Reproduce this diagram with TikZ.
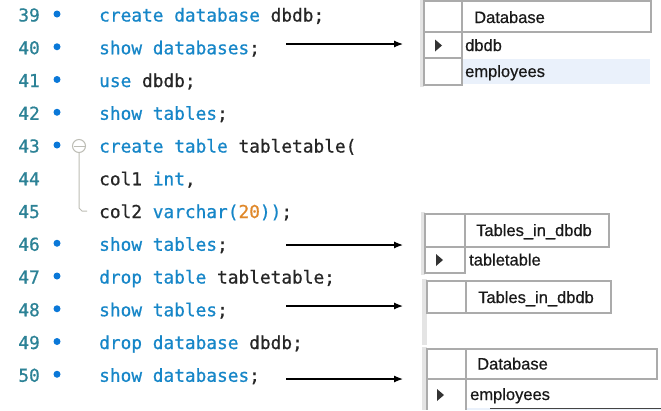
\documentclass[tikz,border=0pt]{standalone}
\usepackage{fontspec}
\setmainfont{Liberation Sans}[FakeBold=0.4]
\newfontfamily\codefont{DejaVu Sans Mono}[FakeBold=0.7]
\newfontfamily\tabfont{Liberation Sans}[FakeBold=0.6]
\usetikzlibrary{arrows.meta}
\definecolor{kwc}{HTML}{1686C8}
\definecolor{idc}{HTML}{262626}
\definecolor{numc}{HTML}{E0882A}
\definecolor{lnc}{HTML}{2C8296}
\definecolor{dotc}{HTML}{0A78D8}
\definecolor{foldc}{HTML}{BDBDB5}
\definecolor{gridc}{HTML}{ABABAB}
\definecolor{stripc}{HTML}{E4E4E4}
\definecolor{hlc}{HTML}{EAF1FB}
\newcommand\kwd[1]{\textcolor{kwc}{#1}}
\newcommand\numd[1]{\textcolor{numc}{#1}}
\begin{document}
\begin{tikzpicture}[x=1pt,y=-1pt,
  code/.style={anchor=base west, inner sep=0pt, font=\codefont\fontsize{17.8}{20}\selectfont, text=idc},
  lnum/.style={anchor=base east, inner sep=0pt, font=\codefont\fontsize{17.8}{20}\selectfont, text=lnc},
  bpoint/.style={circle, fill=dotc, inner sep=0pt, minimum size=7pt},
  cell/.style={draw=gridc, line width=1.1pt},
  tabtext/.style={anchor=base west, inner sep=0pt, font=\tabfont\fontsize{16.5}{18}\selectfont, text=black!90},
  arr/.style={-{Latex[length=9pt,width=7pt]}, line width=1.2pt, black},
  marker/.style={fill=black!80}
]
\useasboundingbox (0,0) rectangle (661,410);
\fill[white] (0,0) rectangle (661,410);

% ---------- code editor ----------
\foreach \n/\c in {39/16,40/48.75,41/81.5,42/114.25,43/147,44/179.75,45/212.5,46/245.25,47/278,48/310.75,49/343.5,50/376.25}{
  \node[lnum] (n\n) at (40,\c+5.5) {\n};
}
\foreach \n/\c in {39/16,40/48.75,41/81.5,42/114.25,43/147,46/245.25,47/278,48/310.75,49/343.5,50/376.25}{
  \node[bpoint] (d\n) at (57,\c-2) {};
}
\node[code] (l39) at (99,21.5) {\kwd{create database} dbdb;};
\node[code] (l40) at (99,54.25) {\kwd{show databases};};
\node[code] (l41) at (99,87) {\kwd{use} dbdb;};
\node[code] (l42) at (99,119.75) {\kwd{show tables};};
\node[code] (l43) at (99,152.5) {\kwd{create table} tabletable(};
\node[code] (l44) at (99,185.25) {col1 \kwd{int},};
\node[code] (l45) at (99,218) {col2 \kwd{varchar(}\numd{20}\kwd{))};};
\node[code] (l46) at (99,250.75) {\kwd{show tables};};
\node[code] (l47) at (99,283.5) {\kwd{drop table} tabletable;};
\node[code] (l48) at (99,316.25) {\kwd{show tables};};
\node[code] (l49) at (99,349) {\kwd{drop database} dbdb;};
\node[code] (l50) at (99,381.75) {\kwd{show databases};};

% fold marker
\node[circle, draw=foldc, line width=1pt, fill=white, minimum size=13pt, inner sep=0pt] (fold) at (79,146) {};
\draw[foldc, line width=1pt] (73.5,146) -- (84.5,146);
\draw[foldc, line width=1pt] (fold.south) -- (79,208) -- (82,211) -- (87,211);

% ---------- table 1 ----------
\fill[stripc] (420,0) rectangle (424,87);
\fill[hlc] (462,59) rectangle (650,84);
\draw[cell] (424,1) rectangle (651,32);
\draw[cell] (462,1) -- (462,32);
\draw[cell] (424,32) rectangle (462,58);
\draw[cell] (424,58) rectangle (462,85);
\fill[marker] (435,39.5) -- (442,45.5) -- (435,51.5) -- cycle;
\node[tabtext] (t1h) at (474,23) {Database};
\node[tabtext] (t1a) at (465,51) {dbdb};
\node[tabtext] (t1b) at (465,77) {employees};

% ---------- table 2 ----------
\fill[stripc] (421,212) rectangle (425,275);
\draw[cell] (425,214) rectangle (609,247);
\draw[cell] (465,214) -- (465,247);
\draw[cell] (425,247) rectangle (465,273);
\fill[marker] (436,254) -- (443,260) -- (436,266) -- cycle;
\node[tabtext] (t2h) at (476,236) {Tables\_in\_dbdb};
\node[tabtext] (t2a) at (469,265.5) {tabletable};

% ---------- table 3 ----------
\fill[stripc] (422,279) rectangle (427,345);
\draw[cell] (427,281) rectangle (611,313);
\draw[cell] (466,281) -- (466,313);
\node[tabtext] (t3h) at (478,303) {Tables\_in\_dbdb};

% ---------- table 4 ----------
\fill[stripc] (422,347) rectangle (427,410);
\fill[hlc] (466,408) rectangle (661,410);
\draw[cell] (427,349) rectangle (657,379);
\draw[cell] (466,349) -- (466,379);
\draw[cell] (427,379) -- (427,410);
\draw[cell] (466,379) -- (466,410);
\draw[gridc!40!black, line width=1pt] (490,408) -- (661,408);
\fill[marker] (437,389) -- (444,395) -- (437,401) -- cycle;
\node[tabtext] (t4h) at (477,369.5) {Database};
\node[tabtext] (t4a) at (470,400) {employees};

% ---------- arrows ----------
\coordinate (s1) at (286,44);  \coordinate (e1) at (403,44);
\coordinate (s2) at (286,245); \coordinate (e2) at (403,245);
\coordinate (s3) at (286,306); \coordinate (e3) at (403,306);
\coordinate (s4) at (286,379); \coordinate (e4) at (403,379);
\draw[arr] (s1) -- (e1);
\draw[arr] (s2) -- (e2);
\draw[arr] (s3) -- (e3);
\draw[arr] (s4) -- (e4);
\end{tikzpicture}
\end{document}
